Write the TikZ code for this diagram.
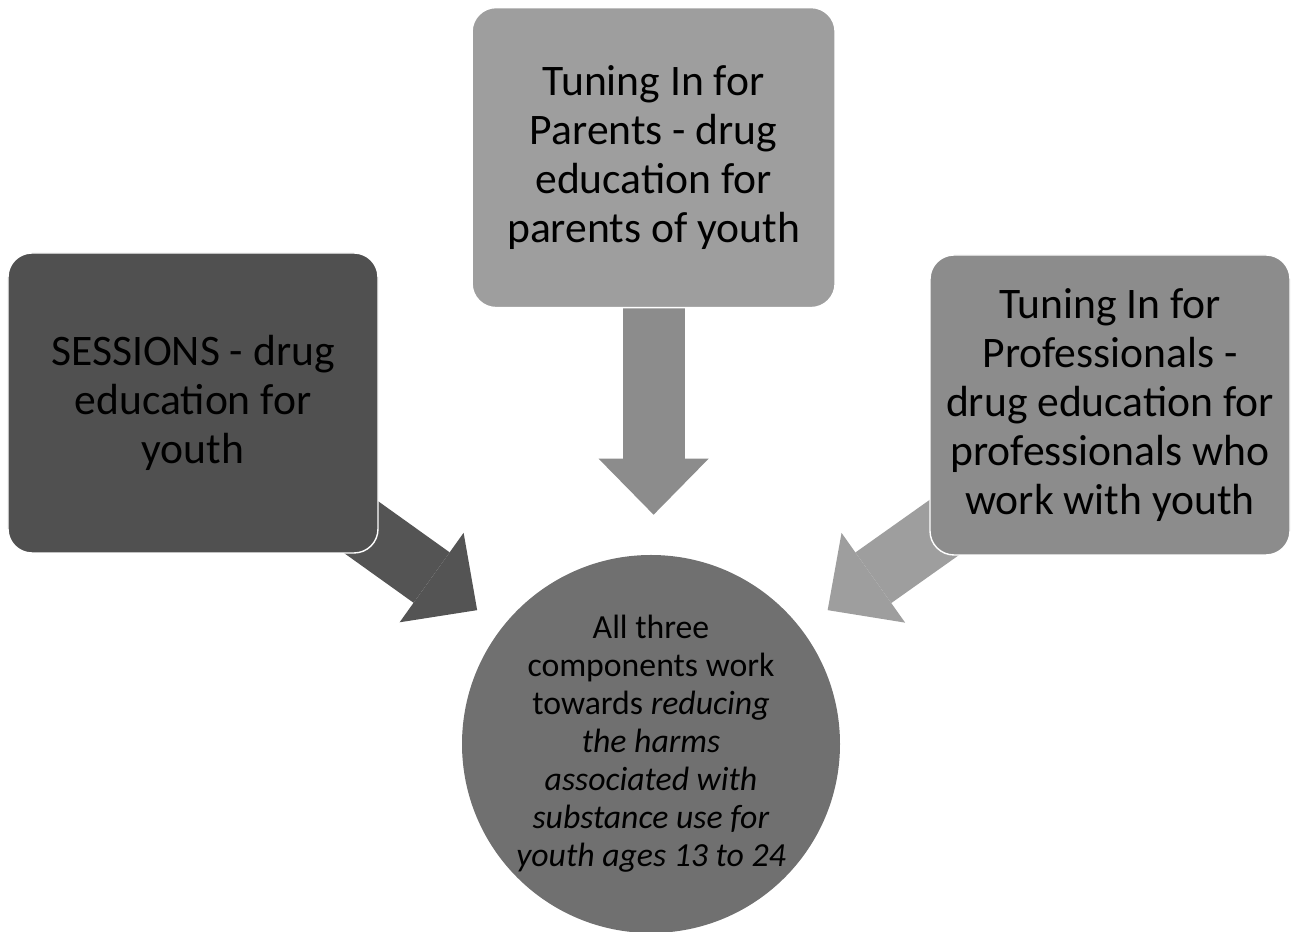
\documentclass[tikz,border=0pt]{standalone}
\usepackage{fontspec}
\setmainfont{Carlito}
\usetikzlibrary{arrows.meta,backgrounds}

\begin{document}
\begin{tikzpicture}[x=1cm,y=1cm,
  boite/.style={rounded corners=0.6cm,draw=white,line width=1pt,minimum width=#1,minimum height=7.5cm,
    align=center,inner sep=0pt,font=\fontsize{31}{35}\selectfont},
  fleche/.style={line width=1.55cm,draw=#1,-{Triangle[length=1.4cm,width=2.75cm,line width=0pt,fill=#1]}}]
\definecolor{fonce}{RGB}{80,80,80}
\definecolor{clair}{RGB}{158,158,158}
\definecolor{moyen}{RGB}{140,140,140}
\definecolor{rond}{RGB}{112,112,112}
\useasboundingbox (0,0) rectangle (32.35,23.3);

% les trois programmes
\node[boite=9.25cm,fill=fonce] (sessions) at (4.825,13.225) {SESSIONS - drug\\education for\\youth};
\node[boite=9.075cm,fill=clair] (parents) at (16.34,19.36) {Tuning In for\\Parents - drug\\education for\\parents of youth};
\node[boite=9cm,fill=moyen] (profs) at (27.75,13.175) {Tuning In for\\Professionals -\\drug education for\\professionals who\\work with youth};

% le but commun
\node[circle,fill=rond,minimum size=9.45cm,inner sep=-0.6cm,align=center,
  font=\fontsize{24}{27}\selectfont] (but) at (16.275,4.7)
  {All three\\components work\\towards \textit{reducing}\\\textit{the harms}\\\textit{associated with}\\\textit{substance use for}\\\textit{youth ages 13 to 24}};

\begin{scope}[on background layer]
\draw[fleche=rond!75!black] ([xshift=-0.7cm,yshift=0.85cm]sessions.south east) -- ([xshift=-1cm]but.north west);
\draw[fleche=moyen,shorten >=1cm] (parents.south) -- (parents.south |- but.north);
\draw[fleche=clair] ([xshift=0.65cm,yshift=0.9cm]profs.south west) -- ([xshift=1.07cm]but.north east);
\end{scope}
\end{tikzpicture}
\end{document}
